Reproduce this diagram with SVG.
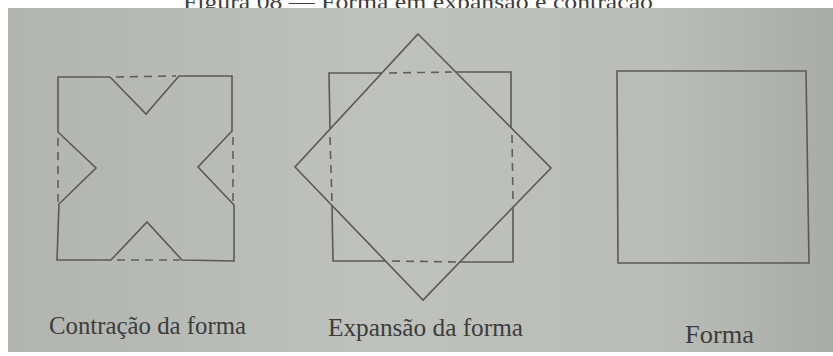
<svg xmlns="http://www.w3.org/2000/svg" width="833" height="356" viewBox="0 0 833 356">
<defs>
<linearGradient id="bg" x1="0" y1="0" x2="1" y2="0">
<stop offset="0" stop-color="#b2b4b0"/>
<stop offset="0.45" stop-color="#bfc1bc"/>
<stop offset="0.8" stop-color="#babcb7"/>
<stop offset="1" stop-color="#a9aba6"/>
</linearGradient>
</defs>
<style>
.s{fill:none;stroke:#595a58;stroke-width:1.6;stroke-linejoin:miter}
.d{fill:none;stroke:#5e5f5c;stroke-width:1.6;stroke-dasharray:8 6}
.t{font-family:"Liberation Serif","Times New Roman",serif;fill:#3c3d3b}
</style>
<rect x="0" y="0" width="833" height="356" fill="#ffffff"/>
<text class="t" x="418" y="9" font-size="22" text-anchor="middle" fill="#111" textLength="470" lengthAdjust="spacingAndGlyphs">Figura 08 — Forma em expansão e contração</text>
<rect x="8" y="8" width="825" height="344" fill="url(#bg)"/>

<g id="contracao">
<polyline class="s" points="110,77 58,77 58,132 96,168 59,204 57,260 111,260 147,222 182,260 234,261 234,205 198,167 232,131 232,76 179,76 146,114 110,77"/>
<line class="d" x1="116" y1="77" x2="176" y2="76"/>
<line class="d" x1="233" y1="137" x2="233" y2="202"/>
<line class="d" x1="117" y1="260" x2="180" y2="260"/>
<line class="d" x1="58" y1="138" x2="58" y2="202"/>
</g>

<g id="expansao">
<polygon class="s" points="418,34 551,168 423,300 295,167"/>
<polyline class="s" points="382,73 329,73 330,130"/>
<polyline class="s" points="456,72 511,72 511,128"/>
<polyline class="s" points="513,207 513,262 460,262"/>
<polyline class="s" points="385,261 333,261 332,206"/>
<line class="d" x1="389" y1="73" x2="452" y2="72"/>
<line class="d" x1="512" y1="135" x2="513" y2="202"/>
<line class="d" x1="392" y1="261" x2="458" y2="262"/>
<line class="d" x1="330" y1="137" x2="332" y2="202"/>
</g>

<g id="forma">
<polygon class="s" points="617,71 806,71 809,263 618,263" stroke="#4a4b49" stroke-width="2"/>
</g>

<g id="labels">
<text class="t" x="49" y="334" font-size="25" textLength="197" lengthAdjust="spacingAndGlyphs">Contração da forma</text>
<text class="t" x="328" y="336" font-size="25" textLength="195" lengthAdjust="spacingAndGlyphs">Expansão da forma</text>
<text class="t" x="685" y="343" font-size="25" textLength="69" lengthAdjust="spacingAndGlyphs">Forma</text>
</g>
</svg>
